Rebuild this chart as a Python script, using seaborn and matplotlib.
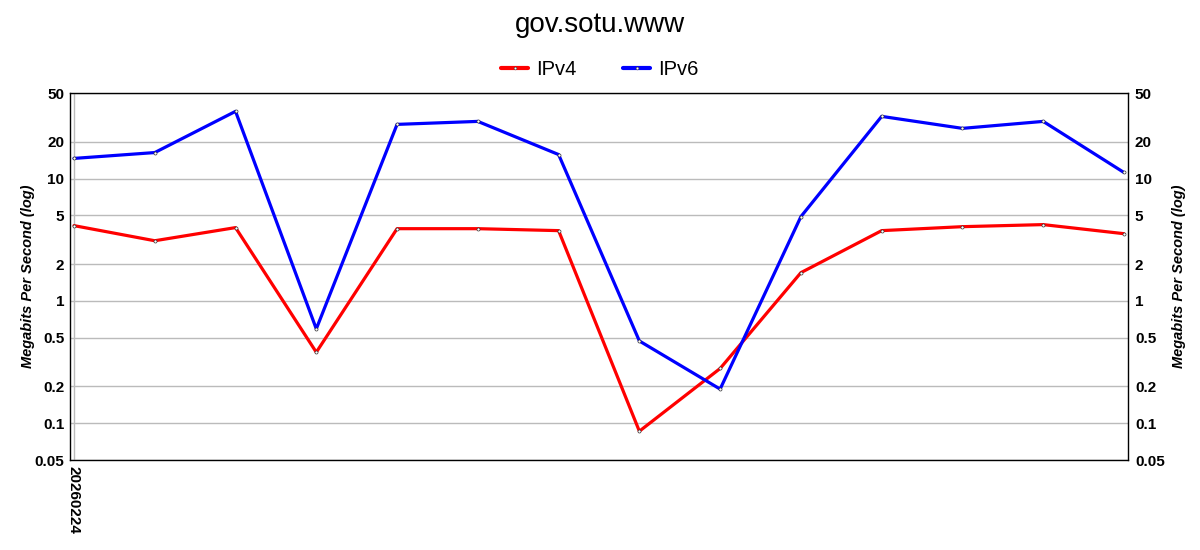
import numpy as np
import pandas as pd
import matplotlib
matplotlib.use("Agg")
import matplotlib.pyplot as plt
import seaborn as sns
from matplotlib.lines import Line2D

# Values (Mbps, log scale)
dates = ["20260224"] + [""] * 13
ipv4 = [4.12, 3.10, 3.97, 0.38, 3.89, 3.89, 3.75, 0.086, 0.28, 1.70, 3.75, 4.04, 4.20, 3.54]
ipv6 = [14.6, 16.3, 35.4, 0.59, 27.7, 29.3, 15.7, 0.47, 0.19, 4.88, 32.2, 25.7, 29.3, 11.2]
yticks = [0.05, 0.1, 0.2, 0.5, 1, 2, 5, 10, 20, 50]
ytick_labels = ["0.05", "0.1", "0.2", "0.5", "1", "2", "5", "10", "20", "50"]

idx = np.arange(len(ipv4))
df = pd.DataFrame({
    "idx": np.concatenate([idx, idx]),
    "value": ipv4 + ipv6,
    "proto": ["IPv4"] * len(ipv4) + ["IPv6"] * len(ipv6),
})

sns.set_style("white")
plt.rcParams["font.family"] = ["Liberation Sans", "DejaVu Sans"]
plt.rcParams["text.color"] = "black"
plt.rcParams["axes.labelcolor"] = "black"
plt.rcParams["xtick.color"] = "black"
plt.rcParams["ytick.color"] = "black"

fig = plt.figure(figsize=(12, 5.5), dpi=100)
ax = fig.add_axes([0.0583, 0.1636, 0.8817, 0.6673])

sns.lineplot(data=df, x="idx", y="value", hue="proto",
             palette={"IPv4": "#ff0000", "IPv6": "#0000ff"},
             linewidth=2.3, marker="o", markersize=2.2,
             markerfacecolor="white", markeredgecolor="#333333",
             markeredgewidth=0.5, ax=ax, legend=False)

ax.set_yscale("log")
ax.set_ylim(0.05, 50)
ax.set_xlim(-0.05, len(ipv4) - 1 + 0.05)
ax.set_yticks(yticks)
ax.set_yticklabels(ytick_labels, fontsize=11, fontweight="bold")
ax.minorticks_off()
ax.set_xticks([0])
ax.set_xticklabels([dates[0]], rotation=270, fontsize=11, fontweight="bold")
ax.tick_params(axis="both", length=0, pad=4)
ax.grid(True, axis="y", color="#bbbbbb", linewidth=1)
ax.grid(True, axis="x", color="#bbbbbb", linewidth=1)
ax.set_axisbelow(True)
ax.set_xlabel("")
ax.set_ylabel("Megabits Per Second (log)", fontsize=10.5, fontweight="bold",
              fontstyle="italic", labelpad=0)
for s in ax.spines.values():
    s.set_color("black")
    s.set_linewidth(1)

ax2 = ax.twinx()
ax2.set_yscale("log")
ax2.set_ylim(0.05, 50)
ax2.set_yticks(yticks)
ax2.set_yticklabels(ytick_labels, fontsize=11, fontweight="bold")
ax2.minorticks_off()
ax2.tick_params(axis="y", length=0, pad=5)
ax2.set_ylabel("Megabits Per Second (log)", fontsize=10.5, fontweight="bold",
               fontstyle="italic", labelpad=5)
for s in ax2.spines.values():
    s.set_visible(False)

handles = [Line2D([0], [0], color="#ff0000", lw=3, marker="o", markersize=2,
                  markerfacecolor="white", markeredgecolor="#333333", markeredgewidth=0.4),
           Line2D([0], [0], color="#0000ff", lw=3, marker="o", markersize=2,
                  markerfacecolor="white", markeredgecolor="#333333", markeredgewidth=0.4)]
fig.legend(handles, ["IPv4", "IPv6"], loc="center", bbox_to_anchor=(0.5, 0.873),
           ncol=2, frameon=False, fontsize=14.5, handlelength=1.35, columnspacing=2.3,
           handletextpad=0.4)

fig.suptitle("gov.sotu.www", fontsize=20, y=0.955, va="center")

fig.savefig("out.png", dpi=100)
